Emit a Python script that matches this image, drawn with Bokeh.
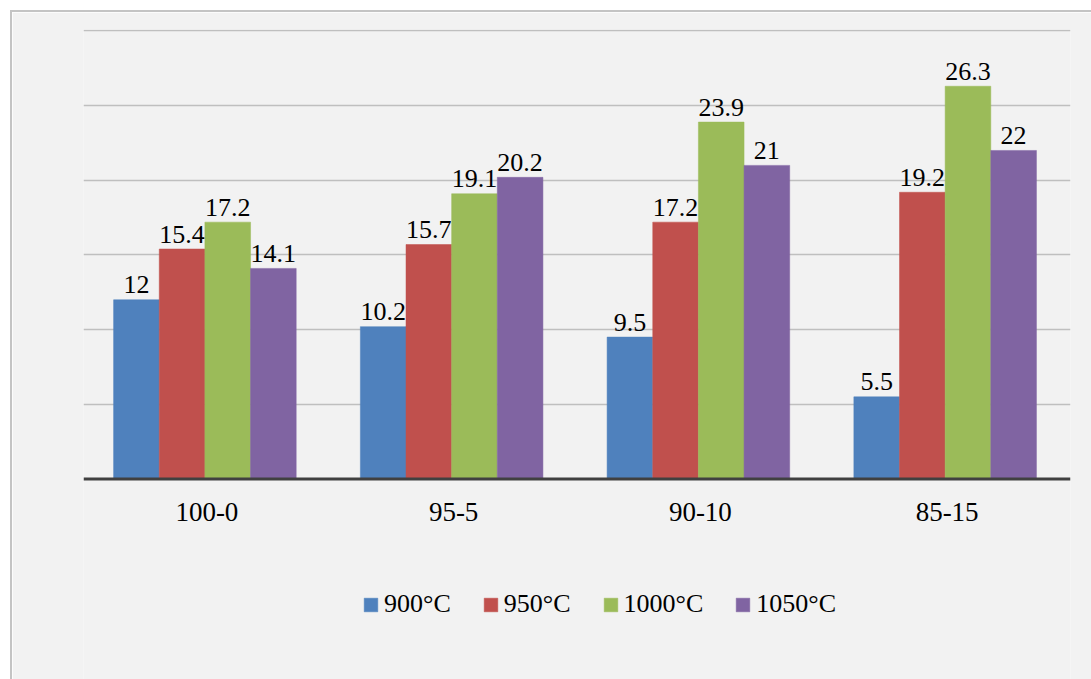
from bokeh.plotting import figure
from bokeh.models import ColumnDataSource, FactorRange, Legend, LegendItem, FixedTicker, Span
from bokeh.transform import dodge
from bokeh.core.properties import value
from bokeh.embed import file_html
from bokeh.resources import INLINE

categories = ["100-0", "95-5", "90-10", "85-15"]
series = ["900°C", "950°C", "1000°C", "1050°C"]
v900 = [12, 10.2, 9.5, 5.5]
v950 = [15.4, 15.7, 17.2, 19.2]
v1000 = [17.2, 19.1, 23.9, 26.3]
v1050 = [14.1, 20.2, 21, 22]
colors = ["#4F81BD", "#C0504D", "#9BBB59", "#8064A2"]
grid_ticks = [5, 10, 15, 20, 25, 30]

FONT = "Liberation Serif"
values_all = [v900, v950, v1000, v1050]

src = {"cat": categories, "zero": [0] * len(categories)}
for s, vals in zip(series, values_all):
    src[s] = vals
    src[s + "_lbl"] = [f"{v:g}" for v in vals]
source = ColumnDataSource(src)

# frame extends below the value axis so that category labels and legend live inside it
p = figure(x_range=FactorRange(factors=categories, range_padding=0), y_range=(-13.43, 30.1),
           frame_width=987, frame_height=650, output_backend="svg", toolbar_location=None,
           margin=(10, 0, 0, 10),
           min_border_left=71, min_border_right=21, min_border_top=17, min_border_bottom=0)
p.styles = {"border-left": "2px solid #C4C4C4", "border-top": "2px solid #C4C4C4"}

p.background_fill_color = "#F2F2F2"
p.border_fill_color = "#F2F2F2"
p.outline_line_color = None

bw = 0.185
shift = -0.008
offsets = [shift - 1.5 * bw, shift - 0.5 * bw, shift + 0.5 * bw, shift + 1.5 * bw]

p.xaxis.visible = False
p.yaxis.visible = False
p.xgrid.visible = False
p.ygrid.ticker = FixedTicker(ticks=grid_ticks)
p.ygrid.grid_line_color = "#BFBFBF"
p.ygrid.grid_line_width = 1.5

items = []
for s, col, off in zip(series, colors, offsets):
    r = p.vbar(x=dodge("cat", off, range=p.x_range), top=s, width=bw, bottom=0,
               source=source, fill_color=col, line_color=col, line_width=0.5)
    p.text(x=dodge("cat", off, range=p.x_range), y=s, text=s + "_lbl", source=source,
           text_align="center", text_baseline="alphabetic", y_offset=-15,
           text_font=value(FONT), text_font_size="26px", text_color="#000000")
    items.append(LegendItem(label=s, renderers=[r]))

# category axis line and labels
p.add_layout(Span(location=0, dimension="width", line_color="#404040", line_width=3))
p.text(x="cat", y="zero", text="cat", source=source, text_align="center",
       text_baseline="alphabetic", y_offset=33,
       text_font=value(FONT), text_font_size="27px", text_color="#000000")

legend = Legend(items=items, orientation="horizontal", location=(279, 60),
                glyph_width=17, glyph_height=17, label_standoff=5, spacing=31,
                label_text_font=FONT, label_text_font_size="26px", label_text_color="#000000",
                border_line_color=None, background_fill_alpha=0, padding=0, margin=0)
p.add_layout(legend)

open("out.html", "w").write(file_html(p, INLINE))
